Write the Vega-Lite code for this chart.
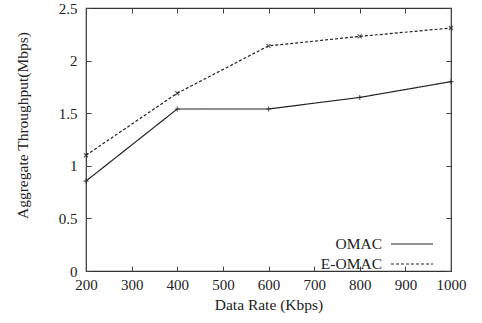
{
  "$schema": "https://vega.github.io/schema/vega-lite/v6.json",
  "width": 365,
  "height": 263,
  "autosize": {"type": "none"},
  "padding": {"left": 86, "top": 8, "right": 31, "bottom": 52},
  "background": "white",
  "config": {
    "font": "Liberation Serif",
    "view": {"stroke": "#333", "strokeWidth": 1.2},
    "axis": {
      "grid": false,
      "domain": false,
      "tickColor": "#444",
      "tickSize": 5,
      "tickWidth": 1,
      "labelColor": "#222",
      "titleColor": "#222",
      "labelFontSize": 15,
      "titleFontSize": 15.5,
      "titleFontWeight": "normal",
      "labelFlush": false,
      "labelOverlap": false
    }
  },
  "data": {
    "values": [
      {"rate": 200, "thr": 0.855, "proto": "OMAC"},
      {"rate": 400, "thr": 1.54, "proto": "OMAC"},
      {"rate": 600, "thr": 1.54, "proto": "OMAC"},
      {"rate": 800, "thr": 1.65, "proto": "OMAC"},
      {"rate": 1000, "thr": 1.8, "proto": "OMAC"},
      {"rate": 200, "thr": 1.1, "proto": "E-OMAC"},
      {"rate": 400, "thr": 1.69, "proto": "E-OMAC"},
      {"rate": 600, "thr": 2.14, "proto": "E-OMAC"},
      {"rate": 800, "thr": 2.23, "proto": "E-OMAC"},
      {"rate": 1000, "thr": 2.31, "proto": "E-OMAC"}
    ]
  },
  "layer": [
    {
      "mark": {"type": "line", "color": "#222", "strokeWidth": 1.2},
      "encoding": {
        "x": {
          "field": "rate", "type": "quantitative",
          "scale": {"domain": [200, 1000], "nice": false, "zero": false},
          "axis": {"values": [200,300,400,500,600,700,800,900,1000], "labelExpr": "'' + datum.value", "ticks": false, "title": "Data Rate (Kbps)", "labelPadding": 6, "titlePadding": 5}
        },
        "y": {
          "field": "thr", "type": "quantitative",
          "scale": {"domain": [0, 2.5], "nice": false},
          "axis": {"values": [0,0.5,1,1.5,2,2.5], "labelExpr": "'' + datum.value", "ticks": false, "title": "Aggregate Throughput(Mbps)", "labelPadding": 9, "titlePadding": 28, "titleY": 117}
        },
        "strokeDash": {
          "field": "proto", "type": "nominal",
          "scale": {"domain": ["OMAC", "E-OMAC"], "range": [[1, 0], [3, 2]]},
          "legend": {
            "title": null,
            "orient": "none",
            "legendX": 318,
            "legendY": 228,
            "symbolType": "M-3,0L3,0",
            "symbolSize": 196,
            "symbolStrokeColor": "#222",
            "symbolStrokeWidth": 1.2,
            "labelAlign": "right",
            "labelOffset": -38,
            "labelFontSize": 15.5,
            "labelColor": "#222",
            "rowPadding": 3
          }
        }
      }
    },
    {
      "transform": [{"filter": "datum.proto == 'OMAC'"}],
      "mark": {"type": "point", "shape": "M-1,0L1,0M0,-1L0,1", "filled": false, "size": 25, "color": "#222", "strokeWidth": 1.2},
      "encoding": {
        "x": {"field": "rate", "type": "quantitative", "axis": {"orient": "top", "offset": -263, "labels": false, "title": null, "values": [200,300,400,500,600,700,800,900,1000]}},
        "y": {"field": "thr", "type": "quantitative", "axis": {"orient": "right", "offset": -365, "labels": false, "title": null, "values": [0,0.5,1,1.5,2,2.5]}}
      }
    },
    {
      "transform": [{"filter": "datum.proto == 'E-OMAC'"}],
      "mark": {"type": "point", "shape": "M-1,-1L1,1M-1,1L1,-1", "filled": false, "size": 16, "color": "#222", "strokeWidth": 1.2},
      "encoding": {
        "x": {"field": "rate", "type": "quantitative", "axis": {"orient": "bottom", "offset": -263, "labels": false, "title": null, "values": [200,300,400,500,600,700,800,900,1000]}},
        "y": {"field": "thr", "type": "quantitative", "axis": {"orient": "left", "offset": -365, "labels": false, "title": null, "values": [0,0.5,1,1.5,2,2.5]}}
      }
    }
  ],
  "resolve": {"axis": {"x": "independent", "y": "independent"}}
}
